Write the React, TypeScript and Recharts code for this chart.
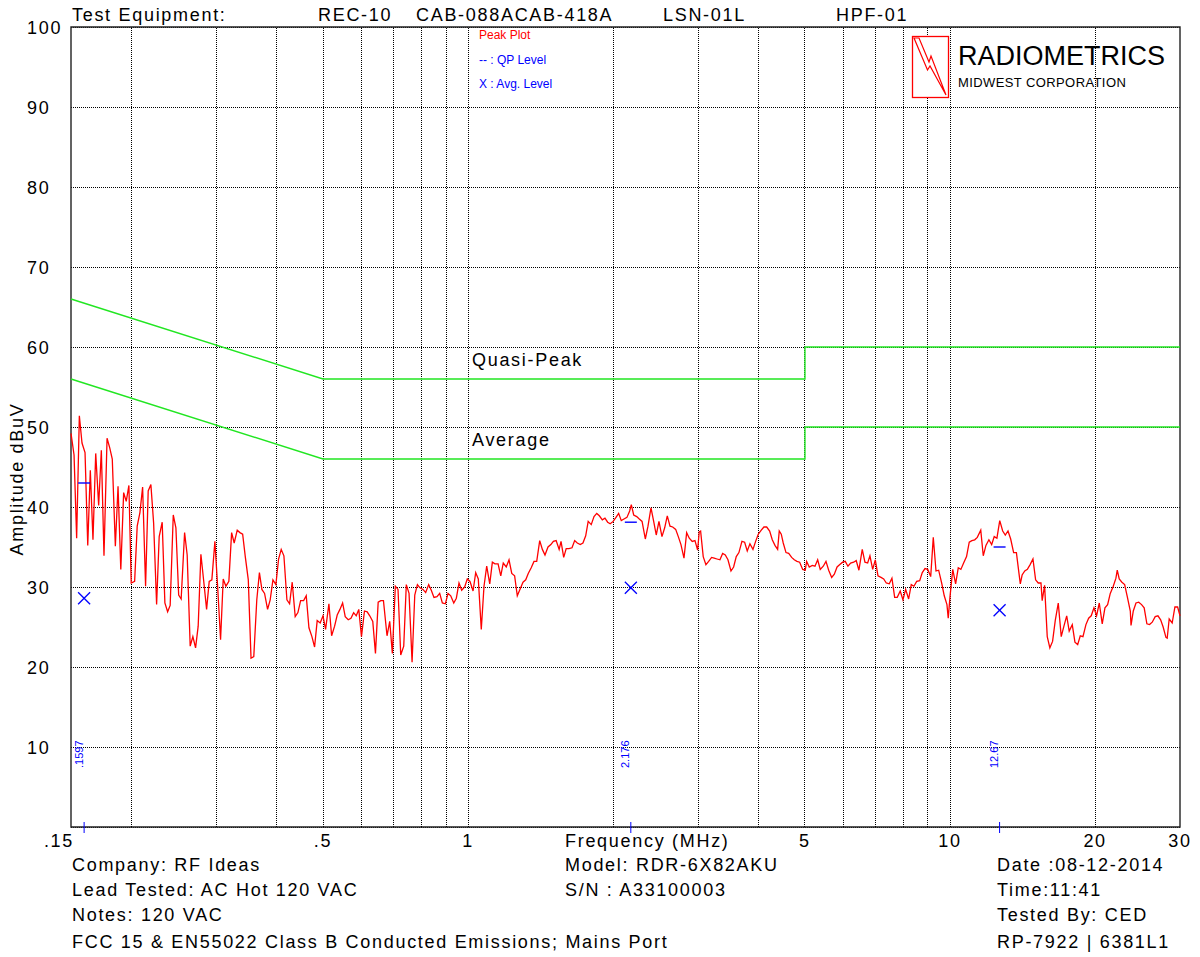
import {
  ComposedChart,
  Line,
  Scatter,
  XAxis,
  YAxis,
  CartesianGrid,
  ReferenceLine,
  ReferenceArea,
} from 'recharts'

// peak scan, frequency in MHz
const peakFreq = [
  0.15, 0.1522, 0.1541, 0.1561, 0.1581, 0.1604, 0.1625, 0.1645, 0.1666, 0.1688,
  0.1712, 0.1734, 0.1756, 0.1782, 0.1805, 0.1827, 0.1854, 0.1878, 0.1903, 0.1929,
  0.1953, 0.1978, 0.2, 0.2033, 0.2058, 0.2085, 0.2112, 0.2142, 0.2169, 0.2197,
  0.2226, 0.2258, 0.2286, 0.2319, 0.2349, 0.238, 0.2409, 0.2445, 0.2476, 0.2509,
  0.2539, 0.2581, 0.2613, 0.2651, 0.2685, 0.272, 0.2754, 0.279, 0.2826, 0.2867,
  0.2903, 0.294, 0.2983, 0.3022, 0.3065, 0.3104, 0.3144, 0.3189, 0.3231, 0.3271,
  0.3319, 0.3362, 0.3406, 0.3449, 0.3499, 0.3545, 0.3592, 0.3644, 0.369, 0.3734,
  0.3782, 0.3837, 0.3885, 0.3936, 0.3992, 0.4044, 0.4095, 0.4148, 0.4208, 0.4262,
  0.4316, 0.4378, 0.4435, 0.4493, 0.4558, 0.4615, 0.4675, 0.4742, 0.4803, 0.4863,
  0.4933, 0.5, 0.5062,
  0.5143, 0.521, 0.5285, 0.5351, 0.5421, 0.5491, 0.556, 0.564, 0.5714, 0.5788,
  0.586, 0.5932, 0.6009, 0.6095, 0.6175, 0.6251, 0.6342, 0.6424, 0.6508, 0.6589,
  0.6674, 0.6789, 0.6877, 0.6964, 0.7064, 0.7155, 0.7248, 0.7353, 0.7444, 0.7542,
  0.7652, 0.7751, 0.7849, 0.7947, 0.8061, 0.8166, 0.8284, 0.8387, 0.8496, 0.8619,
  0.8731, 0.8843, 0.897, 0.9086, 0.9204, 0.9338, 0.9454, 0.9575, 0.9699, 0.9839,
  0.9962, 1.009, 1.024, 1.037, 1.05, 1.065, 1.079, 1.093, 1.109, 1.123,
  1.137, 1.154, 1.169, 1.183, 1.2, 1.216, 1.232, 1.249, 1.265, 1.281,
  1.3, 1.317, 1.333, 1.352, 1.37, 1.388, 1.408, 1.426, 1.444, 1.465,
  1.485, 1.503, 1.523, 1.545,
  1.559, 1.579, 1.598, 1.619, 1.643, 1.664, 1.685, 1.709, 1.731, 1.754,
  1.775, 1.801, 1.825, 1.849, 1.872, 1.899, 1.923, 1.948, 1.972, 2.0,
  2.027, 2.053, 2.079, 2.106, 2.136, 2.164, 2.181, 2.206, 2.238, 2.266,
  2.296, 2.332, 2.362, 2.396, 2.427, 2.457, 2.489, 2.525, 2.558, 2.59,
  2.624, 2.658, 2.696, 2.73, 2.765, 2.805, 2.841, 2.877, 2.918, 2.956,
  2.994, 3.017, 3.037, 3.075, 3.115, 3.156, 3.201, 3.241, 3.284, 3.331,
  3.374, 3.417, 3.461, 3.511, 3.556, 3.601, 3.647, 3.7, 3.748, 3.795,
  3.844, 3.9, 3.95, 4.0, 4.058, 4.11, 4.164, 4.224, 4.277, 4.332,
  4.388, 4.422, 4.465, 4.507, 4.567, 4.626, 4.692, 4.751, 4.812, 4.875,
  4.946, 5.007, 5.04, 5.104, 5.178, 5.245, 5.313, 5.379, 5.457, 5.528,
  5.6, 5.681, 5.753, 5.829, 5.906, 5.986, 6.061, 6.139, 6.219, 6.309,
  6.387, 6.47, 6.574, 6.659, 6.746, 6.82,
  6.91, 6.997, 7.087, 7.19, 7.283, 7.374, 7.48, 7.576, 7.675, 7.77,
  7.882, 7.985, 8.088, 8.205, 8.308, 8.415, 8.527, 8.65, 8.758, 8.872,
  8.987, 9.117, 9.23, 9.351, 9.47, 9.607, 9.727, 9.853, 9.914, 9.995,
  10.13, 10.27, 10.4, 10.53, 10.67, 10.82, 10.96, 11.1, 11.25, 11.39,
  11.58, 11.72, 11.87, 12.04, 12.2, 12.35, 12.51, 12.68, 12.86, 13.02,
  13.19, 13.36, 13.55, 13.73, 13.9, 13.99, 14.11, 14.29, 14.47, 14.66,
  14.86, 15.05, 15.24, 15.44, 15.53, 15.71, 15.91, 16.11, 16.32, 16.53,
  16.77, 17.01, 17.23, 17.46, 17.67, 17.93, 18.16, 18.4, 18.63, 18.87,
  19.14, 19.39, 19.63, 19.89, 20.14, 20.4, 20.69, 20.96, 21.23, 21.5,
  21.81, 22.09, 22.23, 22.44, 22.73, 23.03, 23.32, 23.66, 23.74, 24.0,
  24.31, 24.63, 24.97, 25.28, 25.61, 25.94, 26.27, 26.65, 27.0, 27.35,
  27.68, 28.05, 28.22, 28.49, 28.9, 29.28, 29.66, 30.0,
]

// peak level, dBuV
const peakLevel = [
  49.2, 46.5, 36.1, 51.4, 48.0, 46.8, 35.2, 44.6, 35.9, 46.7,
  40.2, 47.1, 33.9, 48.6, 47.4, 46.0, 35.1, 42.6, 32.2, 41.8,
  40.7, 42.7, 30.5, 30.7, 37.6, 39.3, 42.5, 30.1, 42.0, 42.8,
  38.0, 27.8, 36.3, 38.1, 28.0, 26.9, 27.7, 39.0, 37.4, 29.0,
  28.5, 36.8, 34.0, 22.6, 23.8, 22.4, 25.1, 34.1, 30.9, 27.2,
  30.7, 30.9, 35.7, 30.1, 23.4, 31.0, 30.1, 30.7, 36.8, 35.5,
  37.1, 36.8, 36.6, 33.8, 30.9, 21.1, 21.3, 28.4, 31.8, 29.7,
  29.2, 27.2, 28.4, 30.9, 30.3, 33.5, 34.7, 33.9, 28.4, 27.9,
  30.6, 26.3, 26.8, 28.3, 28.3, 28.9, 24.9, 23.8, 22.5, 25.8,
  25.5, 26.4, 24.7,
  27.9, 23.9, 25.1, 26.5, 27.2, 28.0, 26.3, 25.9, 26.1, 26.8,
  26.4, 27.2, 23.8, 27.0, 26.9, 26.4, 25.7, 21.7, 28.1, 28.3,
  28.3, 23.9, 25.7, 21.7, 30.1, 29.7, 21.5, 22.6, 30.3, 29.2,
  20.6, 29.0, 30.3, 29.9, 29.7, 29.3, 30.3, 29.6, 28.7, 28.8,
  29.2, 28.0, 27.9, 29.2, 28.9, 28.0, 28.6, 30.5, 29.6, 30.0,
  31.0, 30.7, 29.5, 31.8, 31.0, 24.7, 30.1, 32.6, 30.4, 33.1,
  32.9, 32.9, 31.4, 33.0, 32.5, 33.4, 31.7, 31.4, 28.9, 29.7,
  30.6, 30.9, 31.7, 32.4, 33.2, 33.2, 35.8, 34.7, 34.0, 35.0,
  35.3, 35.7, 35.8, 34.7,
  35.7, 33.7, 34.8, 34.8, 34.9, 35.8, 35.5, 35.3, 35.5, 36.4,
  38.2, 37.8, 38.8, 39.2, 38.9, 38.4, 38.6, 38.1, 37.9, 38.2,
  38.7, 39.2, 38.3, 38.5, 38.7, 39.5, 40.3, 39.0, 38.8, 38.5,
  38.2, 36.0, 37.6, 39.9, 38.2, 36.5, 38.2, 36.3, 37.4, 38.9,
  37.6, 37.5, 37.2, 36.3, 35.3, 33.6, 36.8, 36.1, 35.7, 35.8,
  34.6, 36.9, 37.0, 33.8, 32.8, 33.2, 33.7, 33.6, 33.5, 33.4,
  34.2, 34.0, 33.4, 32.0, 32.5, 33.8, 34.3, 35.7, 35.6, 34.5,
  35.4, 34.7, 35.7, 36.6, 37.1, 37.5, 37.5, 37.0, 35.9, 35.2,
  34.7, 37.0, 36.6, 35.5, 34.3, 34.2, 33.7, 33.4, 33.2, 33.1,
  32.2, 32.1, 33.2, 32.5, 32.7, 32.6, 33.4, 32.2, 32.6, 33.2,
  32.1, 31.2, 31.6, 32.5, 32.8, 33.1, 33.2, 32.6, 33.0, 33.1,
  33.3, 32.1, 34.7, 33.1, 33.0, 33.9,
  32.2, 33.4, 31.4, 31.2, 31.0, 30.5, 30.4, 31.1, 28.7, 28.7,
  29.5, 28.4, 29.7, 28.5, 30.3, 30.1, 30.7, 30.8, 31.8, 32.3,
  32.2, 31.3, 36.2, 32.0, 32.1, 30.5, 28.9, 27.8, 26.1, 28.7,
  32.2, 30.4, 32.4, 32.2, 33.0, 33.8, 35.6, 35.8, 35.9, 36.2,
  37.1, 33.9, 35.2, 35.9, 35.3, 36.3, 36.1, 38.3, 37.0, 36.5,
  37.0, 36.0, 34.3, 34.3, 31.7, 30.4, 31.5, 32.0, 32.2, 32.8,
  33.5, 30.9, 30.5, 30.5, 28.3, 30.2, 23.8, 22.4, 23.2, 25.8,
  28.0, 23.8, 25.1, 26.4, 24.5, 25.3, 23.1, 22.8, 23.9, 23.8,
  25.3, 26.1, 26.4, 27.4, 26.4, 28.0, 25.4, 27.4, 27.8, 29.2,
  30.1, 31.1, 32.1, 31.0, 30.6, 30.3, 28.8, 27.0, 25.2, 27.0,
  28.0, 28.1, 27.8, 27.4, 25.4, 25.3, 25.6, 26.3, 26.4, 25.9,
  25.0, 23.7, 23.6, 26.0, 25.5, 27.5, 27.5, 26.4,
]

// FCC 15 / EN55022 class B limits
const qpLimitFreq = [0.15, 0.5, 5, 5, 30]
const qpLimitLevel = [66, 56, 56, 60, 60]
const avgLimitFreq = [0.15, 0.5, 5, 5, 30]
const avgLimitLevel = [56, 46, 46, 50, 50]

// final measurements
const markFreq = [0.1597, 2.176, 12.67]
const markLabels = ['.1597', '2.176', '12.67']
const qpMarkLevel = [43.0, 38.1, 35.0]
const avgMarkLevel = [28.6, 29.9, 27.1]

const xTicks = [0.15, 0.5, 1, 5, 10, 20, 30]
const xTickLabels = ['.15', '.5', '1', '5', '10', '20', '30']
const yTicks = [0, 10, 20, 30, 40, 50, 60, 70, 80, 90, 100]
const gridFreqs = [0.2, 0.3, 0.4, 0.5, 0.6, 0.7, 0.8, 0.9, 1, 2, 3, 4, 5, 6, 7, 8, 9, 10, 20]

const peakData = peakFreq.map((f, i) => ({ f, v: peakLevel[i] }))
const qpLimitData = qpLimitFreq.map((f, i) => ({ f, v: qpLimitLevel[i] }))
const avgLimitData = avgLimitFreq.map((f, i) => ({ f, v: avgLimitLevel[i] }))
const qpMarkData = markFreq.map((f, i) => ({ f, v: qpMarkLevel[i] }))
const avgMarkData = markFreq.map((f, i) => ({ f, v: avgMarkLevel[i] }))
const axisMarkData = markFreq.map((f, i) => ({ f, v: 0, label: markLabels[i] }))

const FONT = '"Liberation Sans", Arial, Helvetica, sans-serif'
const BLUE = '#0000ff'
const GREEN = '#22e622'
const txt = { fontFamily: FONT, fontSize: 18, letterSpacing: '1.7px', fill: '#000' }

function FreqTick(props: any) {
  const { x, payload } = props
  const i = xTicks.indexOf(payload.value)
  const first = i === 0
  return (
    <text x={first ? x + 3 : x} y={847} textAnchor={first ? 'end' : 'middle'} style={txt}>
      {xTickLabels[i]}
    </text>
  )
}

function AmpTick(props: any) {
  const { y, payload } = props
  if (payload.value === 0) return <g />
  return (
    <text x={27} y={y + 6.5} textAnchor="start" style={txt}>
      {payload.value}
    </text>
  )
}

const QpDash = (p: any) => (
  <line x1={p.cx - 6} x2={p.cx + 6} y1={p.cy} y2={p.cy} stroke={BLUE} strokeWidth={1.4} />
)

const AvgCross = (p: any) => (
  <g stroke={BLUE} strokeWidth={1.3}>
    <line x1={p.cx - 6} y1={p.cy - 6} x2={p.cx + 6} y2={p.cy + 6} />
    <line x1={p.cx - 6} y1={p.cy + 6} x2={p.cx + 6} y2={p.cy - 6} />
  </g>
)

const AxisMark = (p: any) => (
  <g>
    <line x1={p.cx} x2={p.cx} y1={p.cy - 5} y2={p.cy + 6} stroke={BLUE} strokeWidth={1} />
    <text
      transform={`translate(${p.cx - 1.5},${p.cy - 59}) rotate(-90)`}
      textAnchor="start"
      fontFamily={FONT}
      fontSize={11}
      fill={BLUE}
    >
      {p.payload.label}
    </text>
  </g>
)

export default function App() {
  return (
    <div style={{ position: 'absolute', left: 0, top: 0, width: 1200, height: 957, background: '#fff' }}>
      <ComposedChart width={1200} height={957} margin={{ top: 27, right: 20, bottom: 0, left: 0 }}>
        <CartesianGrid vertical={false} stroke="#000" strokeDasharray="1 1" shapeRendering="crispEdges" />
        <XAxis
          dataKey="f"
          type="number"
          scale="log"
          domain={[0.15, 30]}
          ticks={xTicks}
          interval={0}
          height={130}
          tickLine={false}
          axisLine={false}
          tick={<FreqTick />}
        />
        <YAxis
          dataKey="v"
          type="number"
          domain={[0, 100]}
          ticks={yTicks}
          interval={0}
          width={71}
          tickLine={false}
          axisLine={false}
          tick={<AmpTick />}
        />
        {gridFreqs.map((f) => (
          <ReferenceLine
            key={f}
            x={f}
            stroke="#000"
            strokeDasharray="1 1"
            shapeRendering="crispEdges"
          />
        ))}
        <Line data={qpLimitData} dataKey="v" stroke={GREEN} strokeWidth={1.4} dot={false} activeDot={false} isAnimationActive={false} />
        <Line data={avgLimitData} dataKey="v" stroke={GREEN} strokeWidth={1.4} dot={false} activeDot={false} isAnimationActive={false} />
        <Line data={peakData} dataKey="v" stroke="#ff0000" strokeWidth={1.3} dot={false} activeDot={false} isAnimationActive={false} />
        <Scatter data={qpMarkData} shape={QpDash} isAnimationActive={false} />
        <Scatter data={avgMarkData} shape={AvgCross} isAnimationActive={false} />
        <Scatter data={axisMarkData} shape={AxisMark} isAnimationActive={false} />
        <ReferenceArea x1={0.15} x2={30} y1={0} y2={100} fill="none" stroke="#222" strokeWidth={1.4} />
      </ComposedChart>

      <svg
        width={1200}
        height={957}
        style={{ position: 'absolute', left: 0, top: 0, pointerEvents: 'none' }}
      >
        <g style={txt}>
          <text x={72} y={21}>Test Equipment:</text>
          <text x={318} y={21}>REC-10</text>
          <text x={416} y={21}>CAB-088ACAB-418A</text>
          <text x={663} y={21}>LSN-01L</text>
          <text x={836} y={21}>HPF-01</text>

          <text x={472} y={366}>Quasi-Peak</text>
          <text x={472} y={446}>Average</text>

          <text transform="translate(23,479) rotate(-90)" textAnchor="middle">Amplitude dBuV</text>
          <text x={565} y={847}>Frequency (MHz)</text>

          <text x={72} y={871}>Company: RF Ideas</text>
          <text x={72} y={896}>Lead Tested: AC Hot 120 VAC</text>
          <text x={72} y={921}>Notes: 120 VAC</text>
          <text x={72} y={948}>FCC 15 &amp; EN55022 Class B Conducted Emissions; Mains Port</text>

          <text x={565} y={871}>Model: RDR-6X82AKU</text>
          <text x={565} y={896}>S/N : A33100003</text>

          <text x={997} y={871}>Date :08-12-2014</text>
          <text x={997} y={896}>Time:11:41</text>
          <text x={997} y={921}>Tested By: CED</text>
          <text x={997} y={948}>RP-7922 | 6381L1</text>
        </g>

        <g fontFamily={FONT} fontSize={12}>
          <text x={479} y={39} fill="#ff0000">Peak Plot</text>
          <text x={479} y={64} fill={BLUE}>-- : QP Level</text>
          <text x={479} y={88} fill={BLUE}>X : Avg. Level</text>
        </g>

        <g>
          <rect x={912.5} y={36.5} width={36} height={61} fill="#fff" stroke="#ff0000" strokeWidth={1.3} />
          <polygon
            points="914,38 919,38 929,62 931,56 946,95 930,66 927.5,70"
            fill="none"
            stroke="#ff0000"
            strokeWidth={1.2}
          />
          <text x={958} y={65} fontFamily={FONT} fontSize={27} fill="#000">RADIOMETRICS</text>
          <text x={958} y={87} fontFamily={FONT} fontSize={13} letterSpacing="0.4px" fill="#000">
            MIDWEST CORPORATION
          </text>
        </g>
      </svg>
    </div>
  )
}
